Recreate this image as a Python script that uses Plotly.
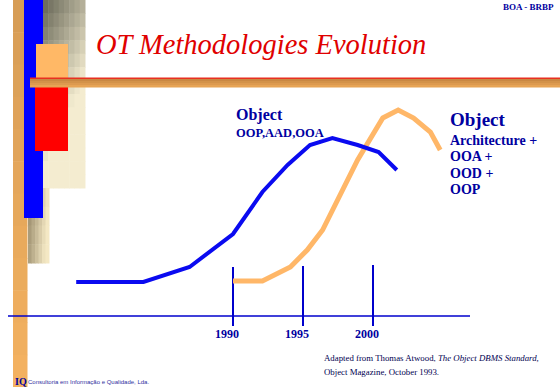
import plotly.graph_objects as go

# ---------------- data ----------------
blue_years = [1978.8, 1983.6, 1986.9, 1990.0, 1992.1, 1993.9, 1995.5, 1997.1, 1998.9, 2000.4, 2001.7]
blue_values = [34, 34, 49, 82, 124, 151, 171, 178, 171, 164, 146]

orange_years = [1990.0, 1992.1, 1994.1, 1995.3, 1996.4, 1998.9, 2000.7, 2001.8, 2002.9, 2004.1, 2004.8]
orange_values = [35, 35, 49, 66, 86, 156, 198, 206, 198, 184, 166]

tick_years = [1990, 1995, 2000]
tick_tops = [49, 50, 51]
tick_labels = ["1990", "1995", "2000"]

W, H = 560, 387
X_RANGE = [1990 - 233 / 14, 1990 + (W - 233) / 14]
Y_RANGE = [-(H - 316), 316]

NAVY = "#0000A0"
BLUE = "#0A0AF0"
ORANGE = "#FFB768"


def px(x):
    return x / W


def py(y):
    return 1 - y / H


def rect(x0, y0, x1, y1, color):
    return dict(type="rect", xref="paper", yref="paper", x0=px(x0), x1=px(x1),
                y0=py(y1), y1=py(y0), fillcolor=color, line=dict(width=0), layer="below")


def lerp(c1, c2, t):
    t = max(0.0, min(1.0, t))
    return "rgb(%d,%d,%d)" % tuple(int(round(a + (b - a) * t)) for a, b in zip(c1, c2))


def grad_rect(x0, y0, x1, y1, c_dark, c_light, nx, ny, wu, wv):
    out = []
    dx = (x1 - x0) / nx
    dy = (y1 - y0) / ny
    for i in range(nx):
        for j in range(ny):
            u = (i + 0.5) / nx
            v = (j + 0.5) / ny
            out.append(rect(x0 + i * dx, y0 + j * dy, x0 + (i + 1) * dx + 0.5,
                            y0 + (j + 1) * dy + 0.5, lerp(c_dark, c_light, wu * u + wv * v)))
    return out


shapes = []
# left orange bar (gradient downwards)
shapes += grad_rect(13, 0, 27, H, (214, 156, 86), (244, 178, 96), 1, 12, 0, 1)
# beige gradient panels
shapes += grad_rect(43, 0, 85, 188, (100, 100, 84), (244, 236, 208), 8, 14, 0.55, 1.1)
shapes += grad_rect(28, 188, 49, 263, (150, 136, 104), (244, 232, 196), 6, 4, 1.0, 0.2)
# blue vertical bar
shapes.append(rect(24, 0, 43, 218, "#0000FF"))
# light orange square and red block
shapes.append(rect(36, 44, 68, 80, "#FFB866"))
shapes.append(rect(35, 80, 68, 151, "#FF0000"))
# horizontal tan bar under title with red top line
shapes += grad_rect(30, 79, W, 87, (196, 132, 64), (236, 168, 88), 1, 4, 0, 1)
shapes.append(rect(30, 77.5, W, 79, "#E83020"))
# baseline axis
shapes.append(dict(type="line", xref="paper", yref="y", x0=px(8), x1=px(470), y0=0, y1=0,
                   line=dict(color="#0000CC", width=1.5), layer="above"))

fig = go.Figure()

# tick marks
tx, ty = [], []
for yr, top in zip(tick_years, tick_tops):
    tx += [yr, yr, None]
    ty += [-10, top, None]
fig.add_trace(go.Scatter(x=tx, y=ty, mode="lines", line=dict(color="#0000CC", width=2),
                         hoverinfo="skip", showlegend=False))

fig.add_trace(go.Scatter(x=orange_years, y=orange_values, mode="lines",
                         line=dict(color=ORANGE, width=5), showlegend=False))
fig.add_trace(go.Scatter(x=blue_years, y=blue_values, mode="lines",
                         line=dict(color=BLUE, width=4), showlegend=False))

annotations = []
SERIF = "Liberation Serif"


def txt(x, y, s, size, color=NAVY, family=SERIF, xanchor="left", yanchor="middle"):
    annotations.append(dict(xref="paper", yref="paper", x=px(x), y=py(y), text=s,
                            showarrow=False, xanchor=xanchor, yanchor=yanchor,
                            font=dict(family=family, size=size, color=color)))


# tick labels
for yr, lab in zip(tick_years, tick_labels):
    annotations.append(dict(xref="x", yref="y", x=yr, y=-18, text="<b>%s</b>" % lab,
                            xshift=-6, showarrow=False, xanchor="center", yanchor="middle",
                            font=dict(family=SERIF, size=12, color=NAVY)))

# title
txt(94, 44, "<i>OT Methodologies Evolution</i>", 28.5, color="#E00000")
# header tag
txt(556, 7, "<b>BOA - BRBP</b>", 9, xanchor="right")
# series labels
txt(234, 115, "<b>Object</b>", 16)
txt(234, 133, "<b>OOP,AAD,OOA</b>", 12.5)
txt(448, 119, "<b>Object</b>", 19)
txt(448, 140, "<b>Architecture +</b>", 14)
txt(448, 156.5, "<b>OOA +</b>", 14)
txt(448, 173, "<b>OOD +</b>", 14)
txt(448, 189.5, "<b>OOP</b>", 14)
# citation
txt(322, 358, "Adapted from Thomas Atwood, <i>The Object DBMS Standard,</i>", 8.8, color="#000050")
txt(322, 372, "Object Magazine, October 1993.", 8.8, color="#000050")
# footer
txt(13, 381, "<b>IQ</b>", 10, color="#0000A0")
txt(26, 382, "Consultoria em Informação e Qualidade, Lda.", 6, color="#3030A0", family="Liberation Sans")

fig.update_layout(
    width=W, height=H,
    margin=dict(l=0, r=0, t=0, b=0),
    paper_bgcolor="white", plot_bgcolor="white",
    xaxis=dict(range=X_RANGE, visible=False, fixedrange=True),
    yaxis=dict(range=Y_RANGE, visible=False, fixedrange=True),
    shapes=shapes,
    annotations=annotations,
    showlegend=False,
)

fig.write_html("out.html", config={"displayModeBar": False},
               post_script="document.body.style.margin='0px';document.body.style.overflow='hidden';")
